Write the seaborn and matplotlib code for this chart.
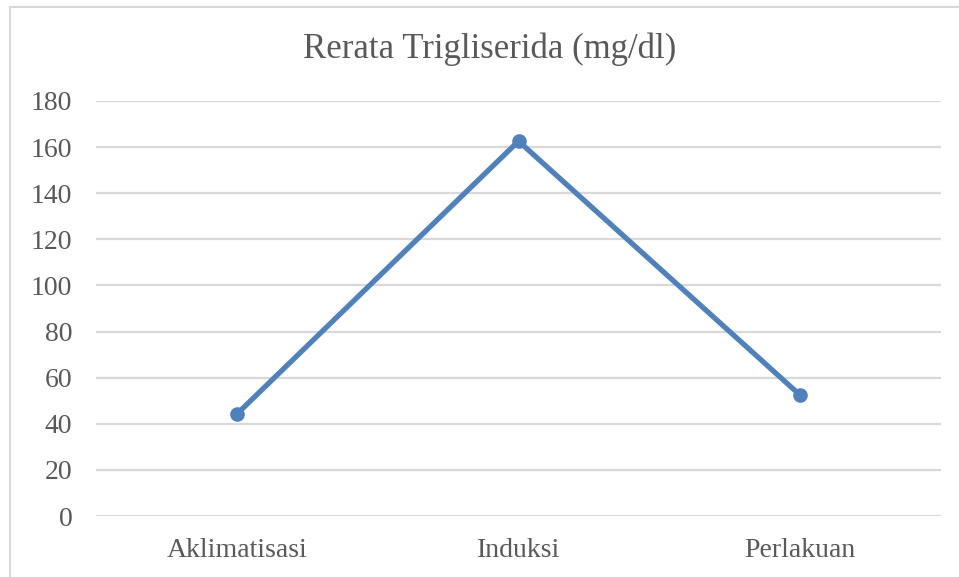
import matplotlib
matplotlib.use("Agg")
import matplotlib.pyplot as plt
import seaborn as sns
import pandas as pd
from matplotlib.patches import Rectangle

# Data
stages = ["Aklimatisasi", "Induksi", "Perlakuan"]
trigliserida = [44.2, 162.6, 52.4]
y_ticks = [0, 20, 40, 60, 80, 100, 120, 140, 160, 180]

df = pd.DataFrame({"stage": stages, "value": trigliserida})

sns.set_theme(style="white")
plt.rcParams['font.family'] = ['Liberation Serif', 'DejaVu Serif']

TEXT = "#595959"
GRID = "#d9d9d9"
BLUE = "#4f81bd"

fig = plt.figure(figsize=(9.59, 5.77), dpi=100)
fig.patch.set_facecolor("white")

# outer chart border (Excel style)
fig.add_artist(Rectangle((10 / 959, -0.1), 1.2, (577 - 7) / 577 + 0.1,
                         transform=fig.transFigure, fill=False,
                         edgecolor=GRID, linewidth=1.5))

ax = fig.add_axes([96 / 959, 61 / 577, 845 / 959, 415 / 577])

sns.lineplot(data=df, x="stage", y="value", sort=False, ax=ax,
             color=BLUE, linewidth=3.8, marker="o", markersize=10.5,
             markeredgewidth=0, zorder=3)

ax.set_xlim(-0.5, 2.5)
ax.set_ylim(0, 180)
ax.set_yticks(y_ticks)
ax.set_yticklabels([str(t) for t in y_ticks])
ax.yaxis.grid(True, color=GRID, linewidth=1.6)
ax.set_axisbelow(True)
for s in ax.spines.values():
    s.set_visible(False)

ax.tick_params(axis="y", length=0, pad=17, labelsize=20, labelcolor=TEXT)
ax.tick_params(axis="x", length=0, pad=16, labelsize=20, labelcolor=TEXT)
ax.set_xlabel("")
ax.set_ylabel("")

fig.text(490 / 959, 1 - 49 / 577, "Rerata Trigliserida (mg/dl)",
         ha="center", va="center", fontsize=25, color=TEXT)

fig.savefig("out.png", dpi=100, facecolor="white")
